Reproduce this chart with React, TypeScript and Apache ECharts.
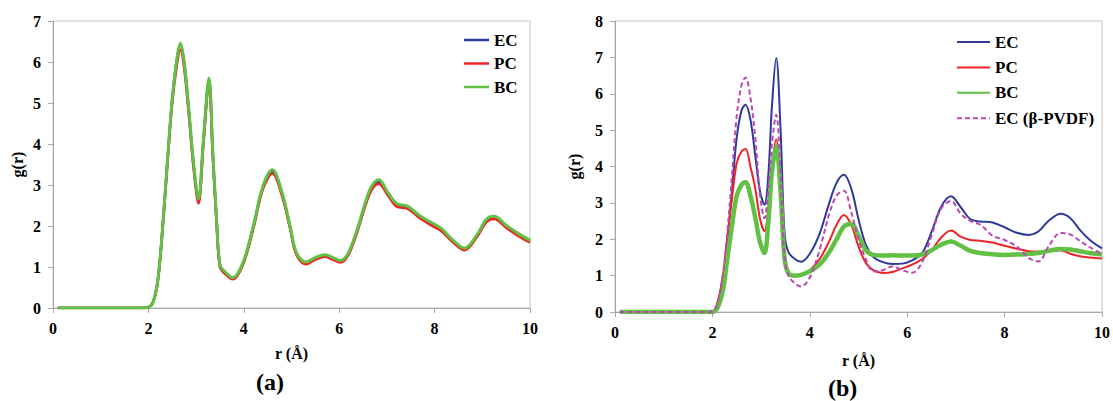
import React, { useEffect, useRef } from "react";
import * as echarts from "echarts";

// ---------- Panel (a) ----------
const rA = [0.1, 1.8, 2.0, 2.1, 2.2, 2.3, 2.4, 2.5, 2.6, 2.67, 2.75, 2.85, 2.95, 3.05, 3.15, 3.27, 3.35, 3.43, 3.5, 3.6, 3.77, 3.98, 4.2, 4.4, 4.6, 4.8, 4.97, 5.1, 5.3, 5.5, 5.7, 5.85, 6.02, 6.18, 6.36, 6.53, 6.67, 6.83, 7.02, 7.2, 7.44, 7.69, 7.97, 8.14, 8.39, 8.63, 8.88, 9.09, 9.25, 9.5, 9.75, 10];
const ecA = [0, 0, 0.02, 0.15, 0.7, 2.0, 3.6, 5.1, 6.08, 6.43, 5.98, 4.78, 3.47, 2.62, 4.02, 5.58, 3.77, 2.12, 1.03, 0.87, 0.72, 1.08, 1.98, 2.94, 3.33, 2.79, 1.98, 1.34, 1.1, 1.21, 1.28, 1.22, 1.14, 1.3, 1.83, 2.47, 2.91, 3.08, 2.79, 2.52, 2.46, 2.23, 2.03, 1.92, 1.63, 1.44, 1.75, 2.14, 2.21, 1.99, 1.79, 1.63];
const pcA = [0, 0, 0.02, 0.15, 0.68, 1.97, 3.55, 5.02, 5.95, 6.3, 5.85, 4.68, 3.38, 2.55, 3.95, 5.5, 3.7, 2.07, 1.0, 0.84, 0.7, 1.05, 1.94, 2.9, 3.28, 2.74, 1.94, 1.31, 1.07, 1.18, 1.25, 1.19, 1.11, 1.27, 1.79, 2.43, 2.86, 3.03, 2.75, 2.48, 2.42, 2.19, 1.99, 1.88, 1.6, 1.41, 1.72, 2.1, 2.17, 1.96, 1.76, 1.6];
const bcA = [0, 0, 0.02, 0.15, 0.7, 2.0, 3.6, 5.12, 6.1, 6.46, 6.0, 4.8, 3.5, 2.66, 4.05, 5.61, 3.8, 2.15, 1.05, 0.89, 0.74, 1.1, 2.0, 2.97, 3.37, 2.82, 2.0, 1.36, 1.12, 1.23, 1.3, 1.24, 1.16, 1.32, 1.85, 2.5, 2.95, 3.13, 2.82, 2.55, 2.48, 2.25, 2.06, 1.94, 1.65, 1.46, 1.77, 2.17, 2.24, 2.02, 1.82, 1.65];

// ---------- Panel (b) ----------
const rB = [0.1, 1.9, 2.05, 2.2, 2.3, 2.4, 2.5, 2.6, 2.68, 2.78, 2.88, 2.98, 3.07, 3.15, 3.22, 3.31, 3.4, 3.48, 3.56, 3.7, 3.82, 4.0, 4.2, 4.4, 4.55, 4.7, 4.85, 5.0, 5.15, 5.3, 5.5, 5.7, 5.9, 6.1, 6.3, 6.5, 6.7, 6.9, 7.1, 7.3, 7.5, 7.75, 8.0, 8.25, 8.5, 8.7, 8.9, 9.15, 9.35, 9.55, 9.75, 10];
const ecB = [0, 0, 0.05, 0.8, 1.9, 3.3, 4.8, 5.55, 5.7, 5.3, 4.3, 3.3, 2.95, 3.8, 5.6, 6.98, 5.0, 2.2, 1.65, 1.45, 1.38, 1.6, 2.15, 3.0, 3.55, 3.77, 3.4, 2.55, 1.85, 1.52, 1.37, 1.32, 1.33, 1.42, 1.6, 2.2, 2.9, 3.18, 2.88, 2.55, 2.49, 2.46, 2.33, 2.18, 2.12, 2.22, 2.5, 2.7, 2.58, 2.25, 1.98, 1.75];
const pcB = [0, 0, 0.06, 0.85, 1.95, 3.1, 4.1, 4.42, 4.48, 4.0, 3.4, 2.55, 2.22, 2.9, 4.0, 4.75, 3.5, 1.6, 1.1, 0.98, 1.0, 1.15, 1.45, 1.95, 2.4, 2.67, 2.4, 1.8, 1.35, 1.15, 1.07, 1.1, 1.2, 1.3, 1.45, 1.7, 2.05, 2.24, 2.07, 1.98, 1.96, 1.91, 1.82, 1.74, 1.67, 1.66, 1.67, 1.7, 1.6, 1.53, 1.5, 1.47];
const bcB = [0, 0, 0.02, 0.5, 1.4, 2.35, 3.2, 3.5, 3.57, 3.2, 2.6, 1.9, 1.62, 2.5, 3.8, 4.55, 3.3, 1.5, 1.07, 1.0, 1.02, 1.12, 1.3, 1.65, 2.0, 2.35, 2.42, 2.1, 1.7, 1.57, 1.55, 1.56, 1.55, 1.55, 1.58, 1.7, 1.85, 1.94, 1.82, 1.68, 1.62, 1.59, 1.57, 1.58, 1.6, 1.62, 1.68, 1.73, 1.72, 1.67, 1.62, 1.58];
const pvdfB = [0, 0, 0.06, 0.9, 2.1, 3.7, 5.4, 6.25, 6.45, 5.9, 4.8, 3.2, 2.58, 3.4, 4.6, 5.42, 3.8, 1.5, 1.0, 0.78, 0.7, 0.95, 1.7, 2.7, 3.2, 3.33, 2.75, 2.0, 1.45, 1.12, 1.15, 1.25, 1.15, 1.08, 1.35, 2.1, 2.85, 3.05, 2.7, 2.5, 2.4, 2.1, 1.98, 1.8, 1.48, 1.39, 1.8, 2.17, 2.13, 1.95, 1.78, 1.6];

const xTicksA = { min: 0, max: 10, interval: 2 };
const yTicksA = { min: 0, max: 7, interval: 1 };
const yTicksB = { min: 0, max: 8, interval: 1 };

const BLUE = "#2e3a9a";
const RED = "#ee2424";
const GREEN = "#62c045";
const PINK = "#b84ab4";
const FONT = '"Liberation Serif", "Times New Roman", serif';
const DASH_ICON = "path://M0,0h5v1h-5z M8,0h5v1h-5z M16,0h5v1h-5z M24,0h5v1h-5z M32,0h1v1h-1z";

const zip = (xs: number[], ys: number[]) => xs.map((x, i) => [x, ys[i]]);

const axisCommon = {
  axisLine: { show: true, lineStyle: { color: "#a8a8a8", width: 1 } },
  axisTick: { show: true, inside: false, length: 5, lineStyle: { color: "#a8a8a8" } },
  splitLine: { show: false },
  axisLabel: { color: "#000", fontFamily: FONT, fontWeight: "bold", fontSize: 16, margin: 12 },
  nameTextStyle: { color: "#000", fontFamily: FONT, fontWeight: "bold", fontSize: 16 },
};

function line(name: string, xi: number, data: number[][], color: string, width: number, dashed = false, z = 2) {
  return {
    type: "line",
    name,
    xAxisIndex: xi,
    yAxisIndex: xi,
    data,
    symbol: "none",
    smooth: 0.35,
    z,
    lineStyle: { color, width, type: dashed ? [5, 3] : "solid" },
    itemStyle: { color },
  };
}

const legendText = { color: "#000", fontFamily: FONT, fontWeight: "bold", fontSize: 17, lineHeight: 16 };

export default function App() {
  const ref = useRef<HTMLDivElement>(null);
  useEffect(() => {
    const chart = echarts.init(ref.current!, null, { renderer: "svg" });
    const option = {
      animation: false,
      backgroundColor: "#fff",
      grid: [
        { left: 53, top: 21, width: 477, height: 287, show: true, borderColor: "#c4c4c4", borderWidth: 1 },
        { left: 615, top: 21, width: 487, height: 291, show: true, borderColor: "#c4c4c4", borderWidth: 1 },
      ],
      xAxis: [
        { ...axisCommon, type: "value", gridIndex: 0, ...xTicksA, name: "r (Å)", nameLocation: "middle", nameGap: 37 },
        { ...axisCommon, type: "value", gridIndex: 1, ...xTicksA, name: "r (Å)", nameLocation: "middle", nameGap: 40 },
      ],
      yAxis: [
        { ...axisCommon, type: "value", gridIndex: 0, ...yTicksA, name: "g(r)", nameLocation: "middle", nameGap: 28 },
        { ...axisCommon, type: "value", gridIndex: 1, ...yTicksB, name: "g(r)", nameLocation: "middle", nameGap: 33 },
      ],
      legend: [
        {
          orient: "vertical",
          left: 459,
          top: 26.5,
          itemWidth: 25,
          itemHeight: 2.5,
          itemGap: 6.5,
          symbolKeepAspect: false,
          selectedMode: false,
          formatter: (n: string) => n.split("#")[0],
          textStyle: legendText,
          data: [
            { name: "EC#a", icon: "rect", itemStyle: { color: BLUE } },
            { name: "PC#a", icon: "rect", itemStyle: { color: RED } },
            { name: "BC#a", icon: "rect", itemStyle: { color: GREEN } },
          ],
        },
        {
          orient: "vertical",
          left: 952,
          top: 28.5,
          itemWidth: 33,
          itemHeight: 2,
          itemGap: 8.4,
          symbolKeepAspect: false,
          selectedMode: false,
          formatter: (n: string) => n.split("#")[0],
          textStyle: legendText,
          data: [
            { name: "EC#b", icon: "rect", itemStyle: { color: BLUE } },
            { name: "PC#b", icon: "rect", itemStyle: { color: RED } },
            { name: "BC#b", icon: "path://M0,0h33v4.5h-33z", itemStyle: { color: GREEN } },
            { name: "EC (β-PVDF)#b", icon: DASH_ICON, itemStyle: { color: PINK } },
          ],
        },
      ],
      graphic: [
        { type: "text", left: 256, top: 370, style: { text: "(a)", font: `bold 24px ${FONT}`, fill: "#000" } },
        { type: "text", left: 828, top: 376, style: { text: "(b)", font: `bold 24px ${FONT}`, fill: "#000" } },
      ],
      series: [
        line("EC#a", 0, zip(rA, ecA), BLUE, 2.6, false, 2),
        line("PC#a", 0, zip(rA, pcA), RED, 2.6, false, 3),
        line("BC#a", 0, zip(rA, bcA), GREEN, 3, false, 4),
        line("EC#b", 1, zip(rB, ecB), BLUE, 2, false, 2),
        line("PC#b", 1, zip(rB, pcB), RED, 2, false, 3),
        line("BC#b", 1, zip(rB, bcB), GREEN, 4.5, false, 4),
        line("EC (β-PVDF)#b", 1, zip(rB, pvdfB), PINK, 2, true, 5),
      ],
    };
    chart.setOption(option as any);
    return () => chart.dispose();
  }, []);
  return (
    <div
      ref={ref}
      style={{ position: "absolute", left: 0, top: 0, width: 1113, height: 401, background: "#fff" }}
    />
  );
}
